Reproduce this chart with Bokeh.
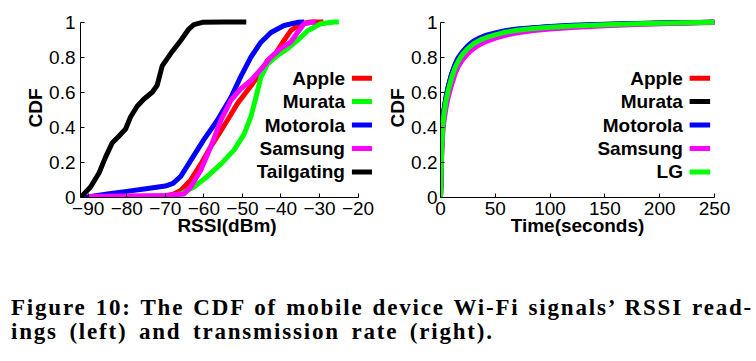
from bokeh.plotting import figure
from bokeh.models import Div, Spacer, SingleIntervalTicker, FixedTicker
from bokeh.layouts import row, column
from bokeh.core.properties import value
from bokeh.embed import file_html
from bokeh.resources import INLINE

# ---------------- data: left panel (RSSI CDF) ----------------
apple_x = [-90, -80, -70, -67.8, -66, -63.4, -60.8, -58.2, -55.6, -53.9, -51.3, -48.7, -46.1, -43.5, -41.4, -39.2, -37.5, -34.9, -32.3, -29]
apple_y = [0, 0.003, 0.008, 0.02, 0.04, 0.10, 0.19, 0.29, 0.38, 0.44, 0.535, 0.61, 0.686, 0.78, 0.82, 0.895, 0.95, 0.99, 1.0, 1.0]
murata_x = [-90, -80, -70, -66, -62.6, -59.1, -55.6, -52.2, -49.6, -47.8, -46.5, -45.2, -43.5, -40.9, -38.3, -35.7, -33.1, -29.7, -26.2, -25]
murata_y = [0, 0.002, 0.006, 0.02, 0.06, 0.12, 0.19, 0.27, 0.36, 0.46, 0.57, 0.686, 0.76, 0.81, 0.848, 0.895, 0.95, 0.99, 1.0, 1.0]
motorola_x = [-91, -85, -80, -75, -70, -68, -66, -64, -62, -60, -56.5, -53, -50.4, -47.8, -45.2, -42.6, -39.2, -35.7, -34]
motorola_y = [0, 0.02, 0.035, 0.05, 0.065, 0.08, 0.12, 0.19, 0.26, 0.33, 0.44, 0.57, 0.69, 0.80, 0.885, 0.94, 0.98, 0.998, 1.0]
samsung_x = [-90, -80, -70, -65.2, -63.4, -60.8, -58.2, -55.6, -53, -50.4, -47.8, -45.2, -42.6, -40.1, -37.5, -35.7, -34, -31.4, -31]
samsung_y = [0.005, 0.008, 0.012, 0.02, 0.06, 0.155, 0.29, 0.44, 0.553, 0.62, 0.667, 0.73, 0.80, 0.848, 0.885, 0.94, 0.99, 1.0, 1.0]
tail_x = [-92, -89.4, -87.2, -85.5, -83.8, -82, -80.3, -79, -77.3, -75.6, -73.4, -72.1, -70.8, -68.6, -66, -63.9, -62.6, -60.4, -55, -49]
tail_y = [0, 0.06, 0.14, 0.23, 0.31, 0.35, 0.39, 0.46, 0.52, 0.56, 0.60, 0.64, 0.75, 0.82, 0.895, 0.96, 0.985, 0.998, 1.0, 1.0]

left_names = ["Apple", "Murata", "Motorola", "Samsung", "Tailgating"]
left_colors = ["#ff0000", "#00ff00", "#0000ff", "#ff00ff", "#000000"]
left_x = [apple_x, murata_x, motorola_x, samsung_x, tail_x]
left_y = [apple_y, murata_y, motorola_y, samsung_y, tail_y]

# ---------------- data: right panel (time CDF) ----------------
t_sec = [0, 0.5, 1, 2, 3, 5, 7, 10, 13, 16, 20, 25, 30, 36, 42, 50, 60, 70, 85, 100, 120, 150, 180, 210, 250]
r_apple = [0, 0.12, 0.26, 0.40, 0.47, 0.55, 0.61, 0.68, 0.735, 0.775, 0.815, 0.85, 0.875, 0.897, 0.912, 0.927, 0.943, 0.953, 0.963, 0.970, 0.977, 0.985, 0.990, 0.994, 0.998]
r_murata = [0, 0.13, 0.28, 0.42, 0.49, 0.57, 0.63, 0.70, 0.75, 0.79, 0.825, 0.86, 0.885, 0.905, 0.92, 0.934, 0.948, 0.957, 0.966, 0.973, 0.979, 0.986, 0.991, 0.995, 0.999]
r_motorola = [0, 0.13, 0.28, 0.42, 0.49, 0.57, 0.63, 0.70, 0.755, 0.795, 0.83, 0.865, 0.89, 0.91, 0.925, 0.938, 0.952, 0.96, 0.968, 0.975, 0.981, 0.987, 0.992, 0.996, 0.999]
r_samsung = [0, 0.10, 0.22, 0.36, 0.43, 0.51, 0.57, 0.64, 0.70, 0.745, 0.785, 0.82, 0.848, 0.872, 0.89, 0.908, 0.926, 0.938, 0.951, 0.96, 0.969, 0.979, 0.986, 0.991, 0.997]
r_lg = [0, 0.12, 0.26, 0.40, 0.47, 0.55, 0.61, 0.68, 0.735, 0.775, 0.815, 0.85, 0.875, 0.897, 0.912, 0.927, 0.943, 0.953, 0.963, 0.970, 0.977, 0.985, 0.990, 0.994, 0.998]

right_names = ["Apple", "Murata", "Motorola", "Samsung", "LG"]
right_colors = ["#ff0000", "#000000", "#0000ff", "#ff00ff", "#00ff00"]
right_y = [r_apple, r_murata, r_motorola, r_samsung, r_lg]

ytick_vals = [0, 0.2, 0.4, 0.6, 0.8, 1]
ytick_labels = ["0", "0.2", "0.4", "0.6", "0.8", "1"]

caption_line1 = "Figure 10: The CDF of mobile device Wi-Fi signals\u2019 RSSI read-"
caption_line2 = "ings (left) and transmission rate (right)."

SANS = "Liberation Sans"


def style(p, xbounds, xlabel, ystandoff):
    p.xaxis.bounds = xbounds
    p.yaxis.bounds = (0, 1)
    p.yaxis.ticker = FixedTicker(ticks=ytick_vals)
    p.yaxis.major_label_overrides = {v: s for v, s in zip(ytick_vals, ytick_labels)}
    p.xaxis.axis_label = xlabel
    p.yaxis.axis_label = "CDF"
    for ax in (p.xaxis[0], p.yaxis[0]):
        ax.axis_line_color = "black"
        ax.axis_line_width = 1
        ax.major_tick_in = 4
        ax.major_tick_out = 0
        ax.major_tick_line_color = "black"
        ax.minor_tick_line_color = None
        ax.major_label_text_font = SANS
        ax.major_label_text_font_size = "19px"
        ax.major_label_text_color = "black"
        ax.axis_label_text_font = SANS
        ax.axis_label_text_font_size = "19px"
        ax.axis_label_text_font_style = "bold"
        ax.axis_label_text_color = "black"
    p.xaxis.major_label_standoff = 0
    p.xaxis.axis_label_standoff = -3
    p.yaxis.major_label_standoff = ystandoff
    p.yaxis.axis_label_standoff = 0
    p.xgrid.visible = False
    p.ygrid.visible = False
    p.outline_line_color = None
    p.background_fill_color = "white"
    p.border_fill_color = "white"


def legend(p, names, colors, x_text, x0, x1):
    for i, (n, c) in enumerate(zip(names, colors)):
        yy = 0.68 - i * 0.1335
        p.text(x=[x_text], y=[yy], text=[n], text_align="right", text_baseline="middle",
               text_font=value(SANS), text_font_style="bold", text_font_size="19px",
               text_color="black")
        p.segment(x0=[x0], y0=[yy], x1=[x1], y1=[yy], line_color=c, line_width=5)


# ---------------- left figure ----------------
p1 = figure(width=380, height=253, x_range=(-92, -16), y_range=(0, 1.02),
            output_backend="svg", toolbar_location=None,
            min_border_left=80, min_border_right=7, min_border_top=18, min_border_bottom=56)
for xs, ys, c in zip(left_x, left_y, left_colors):
    p1.line(xs, ys, line_color=c, line_width=5, line_join="round")
style(p1, (-92, -20), "RSSI(dBm)", 5)
p1.xaxis.ticker = SingleIntervalTicker(interval=10)
legend(p1, left_names, left_colors, -23.4, -21.6, -16.4)

# ---------------- right figure ----------------
p2 = figure(width=374, height=253, x_range=(0, 250), y_range=(0, 1.02),
            output_backend="svg", toolbar_location=None,
            min_border_left=60, min_border_right=40, min_border_top=18, min_border_bottom=56)
for ys, c in zip(right_y, right_colors):
    p2.line(t_sec, ys, line_color=c, line_width=5, line_join="round")
style(p2, (0, 250), "Time(seconds)", 3)
p2.xaxis.ticker = SingleIntervalTicker(interval=50)
legend(p2, right_names, right_colors, 221.2, 227.3, 246)

caption = Div(
    text=(
        '<div style="margin-left:6px;width:742px;font-family:\'Liberation Serif\',serif;font-weight:bold;'
        'font-size:23px;line-height:24px;letter-spacing:1.8px;color:#000;">'
        '<div style="text-align:justify;text-align-last:justify;white-space:nowrap;">' + caption_line1 + '</div>'
        '<div style="text-align:left;word-spacing:4px;">' + caption_line2 + '</div></div>'
    ),
    width=750, height=52,
)

layout = column(row(p1, p2), Spacer(height=38), caption)

with open("out.html", "w") as f:
    f.write(file_html(layout, INLINE))
